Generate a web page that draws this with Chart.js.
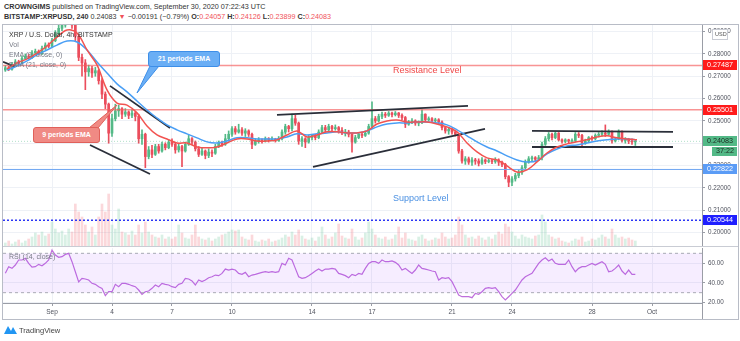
<!DOCTYPE html>
<html>
<head>
<meta charset="utf-8">
<script src="https://cdn.jsdelivr.net/npm/chart.js@4.4.1/dist/chart.umd.min.js"></script>
<style>
  body { margin:0; width:740px; height:341px; background:#fff; position:relative; overflow:hidden;
         font-family:"Liberation Sans", Arial, sans-serif; }
  .abs { position:absolute; white-space:nowrap; }
  .hdr { left:4px; font-size:7.2px; color:#333; line-height:9px; }
  .neg { color:#f0525a; }
  #frame { left:2px; top:24px; width:737px; height:296px; border:1px solid #b8bcc6; box-sizing:border-box; }
  canvas { position:absolute; }
  .legend { left:9px; font-size:7px; color:#787b86; line-height:10px; }
  .note { font-size:9px; }
  .callout { color:#fff; font-weight:bold; font-size:7px; text-align:center; border-radius:3px; box-sizing:border-box; }
</style>
</head>
<body>
<div class="abs hdr" style="top:2px"><b>CROWNGIMS</b> published on TradingView.com, September 30, 2020 07:22:43 UTC</div>
<div class="abs hdr" style="top:12px"><b>BITSTAMP:XRPUSD, 240</b> 0.24083 <span class="neg">▼</span> −0.00191 (−0.79%) <b>O:</b><span class="neg">0.24057</span> <b>H:</b><span class="neg">0.24126</span> <b>L:</b><span class="neg">0.23899</span> <b>C:</b><span class="neg">0.24083</span></div>

<div id="frame" class="abs"></div>
<canvas id="main" width="735" height="222" style="left:3px;top:25px"></canvas>
<canvas id="rsi" width="735" height="72" style="left:3px;top:247px"></canvas>
<div class="abs" style="left:3px;top:246px;width:735px;height:1px;background:#c9ccd4"></div>
<div class="abs" style="left:702px;top:303px;width:1px;height:16px;background:#9a9da6"></div>

<div class="abs legend" style="top:30px;color:#333">XRP / U.S. Dollar, 4h, BITSTAMP</div>
<div class="abs legend" style="top:40px">Vol</div>
<div class="abs legend" style="top:50px">EMA (9, close, 0)</div>
<div class="abs legend" style="top:60px">EMA (21, close, 0)</div>

<div class="abs note" style="left:393px;top:65px;color:#f04848">Resistance Level</div>
<div class="abs note" style="left:393px;top:193px;color:#4a90e2">Support Level</div>

<svg class="abs" style="left:0;top:0" width="740" height="341">
  <polygon points="150,66 159,66 137,93" fill="#6aaef5" stroke="#3d8ee8" stroke-width="1"/>
  <polygon points="89,128 98,128 117,105" fill="#f08a84" stroke="#e0605a" stroke-width="1"/>
  <path d="M4 334 L8 326 L11 331 L13 327 L17 334 Z" fill="#2196f3"/>
</svg>
<div class="abs callout" style="left:148px;top:51px;width:72px;height:16px;line-height:14px;background:#6aaef5;border:1px solid #3d8ee8">21 periods EMA</div>
<div class="abs callout" style="left:33px;top:127px;width:67px;height:16px;line-height:14px;background:#f08a84;border:1px solid #e0605a">9 periods EMA</div>
<div class="abs" style="left:19px;top:326px;font-size:7.5px;color:#444">TradingView</div>

<script>
// ── DATA ──────────────────────────────────────────────
// 4h candles, Aug 29 16:00 → Sep 30 04:00 (x axis = days from Sep 1 00:00)
const firstCandle = -14 / 6;
const candleStep  = 1 / 6;
const firstOpen   = 0.2728;

const closes = [
  .2738,.2732,.2750,.2765,.2758,.2780,.2790,.2785,.2805,.2812,
  .2800,.2825,.2840,.2835,.2860,.2890,.2915,.2930,.2955,.2960,
  .2930,.2880,.2785,.2760,.2720,.2735,.2715,.2725,.2680,.2620,
  .2575,.2445,.2510,.2545,.2555,.2530,.2540,.2525,.2535,.2520,
  .2420,.2440,.2340,.2370,.2350,.2385,.2365,.2395,.2380,.2405,
  .2395,.2370,.2385,.2365,.2395,.2420,.2405,.2375,.2350,.2365,
  .2345,.2360,.2355,.2385,.2400,.2395,.2420,.2440,.2465,.2450,
  .2460,.2445,.2455,.2440,.2395,.2410,.2415,.2410,.2420,.2415,
  .2418,.2412,.2420,.2450,.2475,.2465,.2510,.2490,.2410,.2420,
  .2405,.2425,.2435,.2425,.2450,.2470,.2460,.2475,.2465,.2470,
  .2458,.2445,.2450,.2440,.2405,.2425,.2440,.2435,.2445,.2475,
  .2510,.2500,.2520,.2530,.2525,.2535,.2528,.2535,.2525,.2515,
  .2485,.2495,.2500,.2490,.2492,.2530,.2505,.2510,.2500,.2505,
  .2495,.2470,.2455,.2462,.2450,.2440,.2365,.2320,.2330,.2315,
  .2325,.2320,.2310,.2325,.2318,.2322,.2318,.2325,.2315,.2305,
  .2250,.2225,.2240,.2255,.2270,.2290,.2315,.2330,.2335,.2328,
  .2335,.2395,.2420,.2440,.2425,.2445,.2415,.2408,.2415,.2410,
  .2412,.2440,.2435,.2400,.2410,.2425,.2420,.2435,.2440,.2445,
  .2440,.2450,.2410,.2418,.2452,.2412,.2418,.2410,.24057,.24083
];
const highs = [
  .2748,.2745,.2762,.2775,.2772,.2790,.2800,.2798,.2815,.2822,
  .2818,.2835,.2850,.2850,.2870,.2905,.2935,.2960,.2990,.3010,
  .2985,.2950,.2880,.2800,.2775,.2750,.2745,.2740,.2730,.2690,
  .2630,.2580,.2530,.2575,.2570,.2560,.2555,.2545,.2550,.2540,
  .2530,.2460,.2445,.2385,.2390,.2395,.2395,.2405,.2402,.2415,
  .2420,.2400,.2395,.2390,.2405,.2435,.2425,.2410,.2385,.2380,
  .2370,.2375,.2370,.2395,.2410,.2410,.2440,.2455,.2475,.2475,
  .2485,.2470,.2465,.2460,.2445,.2420,.2425,.2420,.2428,.2425,
  .2428,.2422,.2430,.2460,.2485,.2480,.2530,.2525,.2495,.2430,
  .2425,.2435,.2440,.2440,.2460,.2480,.2480,.2485,.2480,.2482,
  .2475,.2470,.2462,.2458,.2445,.2435,.2448,.2450,.2455,.2485,
  .2585,.2520,.2530,.2540,.2538,.2542,.2540,.2542,.2538,.2532,
  .2520,.2502,.2510,.2505,.2500,.2550,.2532,.2518,.2515,.2512,
  .2510,.2500,.2475,.2470,.2468,.2455,.2445,.2372,.2340,.2338,
  .2335,.2332,.2330,.2335,.2330,.2332,.2328,.2335,.2330,.2320,
  .2310,.2255,.2250,.2265,.2280,.2300,.2325,.2340,.2342,.2340,
  .2345,.2405,.2430,.2448,.2445,.2450,.2448,.2420,.2420,.2418,
  .2420,.2448,.2448,.2440,.2418,.2430,.2432,.2442,.2448,.2455,
  .2482,.2460,.2455,.2425,.2460,.2455,.2425,.2422,.2420,.24126
];
const lows = [
  .2722,.2725,.2728,.2745,.2750,.2755,.2775,.2778,.2780,.2800,
  .2795,.2798,.2820,.2828,.2830,.2855,.2880,.2905,.2920,.2935,
  .2915,.2860,.2770,.2700,.2640,.2700,.2695,.2700,.2665,.2600,
  .2555,.2400,.2430,.2500,.2520,.2510,.2520,.2510,.2515,.2500,
  .2400,.2395,.2290,.2330,.2335,.2345,.2355,.2360,.2370,.2375,
  .2385,.2355,.2360,.2295,.2360,.2390,.2395,.2365,.2340,.2345,
  .2330,.2335,.2340,.2350,.2380,.2385,.2390,.2410,.2430,.2440,
  .2445,.2435,.2430,.2430,.2375,.2390,.2400,.2400,.2405,.2405,
  .2410,.2405,.2408,.2415,.2440,.2450,.2455,.2480,.2395,.2385,
  .2380,.2400,.2415,.2415,.2420,.2445,.2450,.2455,.2455,.2458,
  .2445,.2438,.2432,.2428,.2360,.2400,.2420,.2425,.2430,.2440,
  .2470,.2490,.2495,.2510,.2515,.2520,.2518,.2522,.2515,.2505,
  .2470,.2480,.2488,.2480,.2478,.2488,.2495,.2498,.2492,.2495,
  .2485,.2460,.2445,.2440,.2440,.2432,.2355,.2310,.2305,.2305,
  .2300,.2305,.2298,.2305,.2308,.2312,.2308,.2310,.2300,.2295,
  .2240,.2205,.2210,.2230,.2245,.2260,.2285,.2310,.2320,.2320,
  .2322,.2325,.2390,.2410,.2415,.2420,.2410,.2400,.2402,.2400,
  .2402,.2405,.2425,.2385,.2395,.2405,.2412,.2415,.2428,.2432,
  .2430,.2435,.2400,.2405,.2415,.2405,.2400,.2398,.2395,.23899
];
// volume, millions XRP
const volumes = [
  4,6,3,5,7,4,6,8,10,14,     12,15,11,13,25,18,14,16,12,18,
  15,43,35,30,22,15,20,12,30,43, 35,53,22,18,38,15,14,12,16,12,
  22,14,25,15,12,10,9,12,8,10, 8,10,22,14,9,8,12,22,10,8,
  7,9,6,8,10,12,13,15,17,16,  17,10,8,7,12,6,5,7,6,8,
  5,6,7,9,12,10,15,12,17,11,  8,7,9,6,10,20,12,8,10,14,
  23,11,9,8,18,10,7,9,14,25,  18,12,9,8,10,7,8,12,20,9,
  14,8,7,6,10,12,8,6,7,9,     8,14,10,8,9,12,30,22,12,9,
  10,8,11,9,7,10,8,12,15,13,  23,20,15,11,8,12,10,9,8,11,
  12,32,25,12,10,8,9,6,5,4,   6,8,7,10,5,6,8,7,9,12,
  10,8,18,12,9,10,8,9,7,6
];
const rsi = [
  49.7,56.4,54.7,58.1,63.2,63.2,64.9,59.8,56.0,56.4,
  58.8,57.4,59.8,63.2,73.3,68.2,66.0,66.6,68.9,70.0,
  61.5,51.3,41.0,44.6,43.9,42.9,39.5,38.5,36.1,34.4,
  27.0,31.0,31.0,38.5,36.1,39.5,39.5,38.5,37.1,36.1,
  32.7,28.3,31.0,31.7,34.4,37.8,36.1,39.5,38.5,37.8,
  36.1,35.1,38.5,39.5,44.6,43.9,41.9,37.8,42.9,41.2,
  42.9,45.2,46.2,47.9,47.3,49.6,54.0,53.0,54.0,53.0,
  49.6,48.6,50.6,46.2,47.9,48.6,49.6,50.6,51.3,50.6,
  51.3,50.6,51.3,59.8,58.1,64.9,63.2,54.7,46.2,44.6,
  45.2,47.3,49.6,52.0,54.0,52.0,54.0,54.0,54.7,54.0,
  49.6,48.6,47.3,45.2,48.6,47.3,49.6,48.6,54.7,59.8,
  61.5,61.5,59.8,63.2,61.5,61.5,62.2,60.8,58.1,53.0,
  54.7,52.0,49.6,53.0,58.1,54.7,54.0,53.0,52.0,51.3,
  42.9,45.2,44.6,45.2,41.2,34.4,27.6,25.9,25.9,25.9,
  24.9,29.3,28.3,31.0,34.4,35.1,34.4,35.1,31.0,25.9,
  22.6,25.9,29.3,32.7,37.8,42.9,46.2,47.9,49.6,54.7,
  59.8,63.2,65.5,62.2,64.2,59.8,58.8,58.8,58.8,63.2,
  56.4,51.3,54.7,56.4,56.4,58.1,59.8,58.1,59.8,61.5,
  58.8,51.3,52.0,54.7,58.1,52.0,48.6,53.0,48.6,48.6
];

// EMA lines, read every 12h from Aug 29 18:00
const emaStart = -2.25, emaStep = 0.5;
const ema9 = [
  .2733,.2760,.2778,.2804,.2836,.2876,.2908,.2894,.2818,.2751,
  .2639,.2580,.2571,.2536,.2477,.2437,.2419,.2401,.2401,.2383,
  .2379,.2383,.2401,.2419,.2419,.2410,.2410,.2415,.2437,.2455,
  .2428,.2437,.2451,.2451,.2446,.2446,.2455,.2486,.2500,.2504,
  .2495,.2495,.2495,.2486,.2473,.2451,.2401,.2361,.2334,.2325,
  .2298,.2271,.2280,.2316,.2356,.2383,.2397,.2406,.2415,.2428,
  .2433,.2424,.2419,.2415
];
const ema21 = [
  .2728,.2746,.2769,.2796,.2818,.2840,.2858,.2854,.2818,.2764,
  .2715,.2666,.2630,.2589,.2549,.2513,.2482,.2460,.2442,.2424,
  .2406,.2401,.2410,.2424,.2424,.2419,.2419,.2419,.2428,.2442,
  .2437,.2442,.2446,.2451,.2446,.2446,.2455,.2473,.2486,.2491,
  .2491,.2495,.2495,.2491,.2482,.2460,.2433,.2406,.2383,.2365,
  .2343,.2325,.2316,.2321,.2352,.2374,.2388,.2392,.2401,.2410,
  .2415,.2419,.2419,.2415
];

// horizontal levels and trend lines [day1, price1, day2, price2]
const levels = [0.27487, 0.25501, 0.24083, 0.22822, 0.20544];
const trendLines = [
  [-2.45, .2765, -1.85, .2743],
  [2.9, .2657, 5.9, .2468],
  [1.9, .2392, 4.9, .2262],
  [11.25, .2527, 20.8, .2567],
  [13.05, .2294, 21.65, .2464],
  [24.0, .2455, 31.05, .2451],
  [24.0, .2383, 31.05, .2383]
];

const priceTicks = [0.20, 0.21, 0.22, 0.23, 0.24, 0.25, 0.26, 0.27, 0.28, 0.29];
const rsiTicks   = [20, 40, 60];
const tickDays   = [0, 3, 6, 9, 13, 16, 20, 23, 27, 30];
const tickLabels = ['Sep', '4', '7', '10', '14', '17', '21', '24', '28', 'Oct'];
const countdown  = '37:22';

// ── STYLE ─────────────────────────────────────────────
const X_MIN = -2.45, X_MAX = 32.5;
const UP = '#53b987', DOWN = '#eb4d5c';
const GRID = '#eef1f6';
const FONT = '"Liberation Sans", Arial, sans-serif';
const levelStyles = [
  { color:'rgba(244,90,90,0.65)', width:1.6, dash:[] },
  { color:'rgba(244,90,90,0.65)', width:1.6, dash:[] },
  { color:'rgba(83,185,135,0.45)', width:1, dash:[1,2] },
  { color:'#6fa6f2', width:1, dash:[] },
  { color:'#2b35f5', width:1.4, dash:[2,2] }
];
const tagStyles = [
  { bg:'#ff1a1a', fg:'#fff' }, { bg:'#ff1a1a', fg:'#fff' },
  { bg:'#53b987', fg:'#1d2b22' }, { bg:'#5b9cf6', fg:'#fff' }, { bg:'#1f1fff', fg:'#fff' }
];

// ── BUILD ─────────────────────────────────────────────
const days  = closes.map((_, i) => firstCandle + i * candleStep);
const opens = closes.map((_, i) => i === 0 ? firstOpen : closes[i - 1]);
const isUp  = closes.map((c, i) => c >= opens[i]);
const emaDays = ema9.map((_, k) => emaStart + k * emaStep);

const hline = v => [{ x: X_MIN, y: v }, { x: X_MAX, y: v }];

const datasets = [
  { type:'line', data: emaDays.map((d, k) => ({ x: d, y: ema9[k] })), borderColor:'#f25350', borderWidth:1.5, pointRadius:0, tension:0.35, order:0 },
  { type:'line', data: emaDays.map((d, k) => ({ x: d, y: ema21[k] })), borderColor:'#4a9ff5', borderWidth:1.5, pointRadius:0, tension:0.35, order:0 }
];
trendLines.forEach(l => datasets.push({
  type:'line', data:[{ x:l[0], y:l[1] }, { x:l[2], y:l[3] }],
  borderColor:'#2a2e39', borderWidth:1.8, pointRadius:0, order:0
}));
levels.forEach((v, k) => datasets.push({
  type:'line', data: hline(v), borderColor: levelStyles[k].color, borderWidth: levelStyles[k].width,
  borderDash: levelStyles[k].dash, pointRadius:0, order:1
}));
datasets.push({
  type:'bar', data: days.map((d, i) => ({ x: d, y: [opens[i], closes[i]] })),
  backgroundColor: isUp.map(u => u ? UP : DOWN), barThickness:2, grouped:false, order:2
});
datasets.push({
  type:'bar', data: days.map((d, i) => ({ x: d, y: [Math.min(lows[i], opens[i], closes[i]), Math.max(highs[i], opens[i], closes[i])] })),
  backgroundColor: isUp.map(u => u ? UP : DOWN), barThickness:1, grouped:false, order:3
});
datasets.push({
  type:'bar', yAxisID:'yVol', data: days.map((d, i) => ({ x: d, y: volumes[i] })),
  backgroundColor: isUp.map(u => u ? 'rgba(83,185,135,0.22)' : 'rgba(235,77,92,0.22)'),
  barThickness:2, grouped:false, order:5
});

const tagPlugin = {
  id: 'tags',
  afterDraw(chart) {
    const { ctx, chartArea, scales: { y } } = chart;
    const x0 = chartArea.right + 1;
    ctx.save();
    ctx.textBaseline = 'middle';
    ctx.font = '7.2px ' + FONT;
    levels.forEach((v, k) => {
      const py = Math.round(y.getPixelForValue(v));
      ctx.fillStyle = tagStyles[k].bg;
      ctx.fillRect(x0, py - 5, 34, 10);
      ctx.fillStyle = tagStyles[k].fg;
      ctx.fillText(v.toFixed(5), x0 + 4, py + 0.5);
      if (k === 2) {
        ctx.fillStyle = tagStyles[k].bg;
        ctx.fillRect(x0 + 9, py + 6, 25, 9);
        ctx.fillStyle = tagStyles[k].fg;
        ctx.fillText(countdown, x0 + 13, py + 10.5);
      }
    });
    // currency badge
    ctx.fillStyle = '#fff';
    ctx.strokeStyle = '#c9ccd4';
    ctx.fillRect(x0 + 9, 4, 15, 10);
    ctx.strokeRect(x0 + 9.5, 4.5, 15, 10);
    ctx.fillStyle = '#555';
    ctx.font = '5.5px ' + FONT;
    ctx.fillText('USD', x0 + 12, 9.5);
    ctx.restore();
  }
};

// keep the plot area flush with the canvas edges (labels may overhang)
const noPad = s => { s.width = 36; s.paddingTop = 0; s.paddingBottom = 0; };

const xScale = (showLabels) => ({
  type:'linear', min:X_MIN, max:X_MAX, offset:false,
  afterBuildTicks: s => { s.ticks = tickDays.map(v => ({ value: v })); },
  ticks: { display: showLabels, color:'#50535e', font:{ size:6.5, family:FONT }, padding:2, maxRotation:0,
           callback: v => tickLabels[tickDays.indexOf(v)] },
  grid: { color:GRID, offset:false, drawTicks: showLabels, tickLength:3, tickColor:'#9a9da6' },
  border: { display: showLabels, color:'#9a9da6' },
  afterFit: s => { s.height = showLabels ? 16 : 0; s.paddingLeft = 0; s.paddingRight = 0; }
});

new Chart(document.getElementById('main'), {
  type:'bar',
  data:{ datasets },
  options:{
    responsive:false, animation:false, events:[],
    layout:{ padding:0 },
    plugins:{ legend:{ display:false }, tooltip:{ enabled:false } },
    scales:{
      x: xScale(false),
      y: {
        position:'right', min:0.19345, max:0.2930,
        afterBuildTicks: s => { s.ticks = priceTicks.map(v => ({ value: v })); },
        ticks:{ color:'#50535e', font:{ size:6.3, family:FONT }, padding:3, callback: v => v.toFixed(5) },
        grid:{ color:GRID, tickLength:3, tickColor:'#9a9da6' },
        border:{ color:'#9a9da6' },
        afterFit: noPad
      },
      yVol:{ display:false, min:0, max:222 }
    }
  },
  plugins:[tagPlugin]
});

new Chart(document.getElementById('rsi'), {
  type:'line',
  data:{ datasets:[
    { data: hline(70), borderColor:'#a9abb5', borderWidth:1, borderDash:[3,3], pointRadius:0, fill:false },
    { data: hline(30), borderColor:'#a9abb5', borderWidth:1, borderDash:[3,3], pointRadius:0,
      fill:'-1', backgroundColor:'rgba(160,60,255,0.09)' },
    { data: days.map((d, i) => ({ x: d, y: rsi[i] })), borderColor:'#bf6fdc', borderWidth:1.2, pointRadius:0, fill:false }
  ]},
  options:{
    responsive:false, animation:false, events:[],
    layout:{ padding:{ top:1 } },
    plugins:{ legend:{ display:false }, tooltip:{ enabled:false } },
    scales:{
      x: xScale(true),
      y: {
        position:'right', min:19.5, max:75.4,
        afterBuildTicks: s => { s.ticks = rsiTicks.map(v => ({ value: v })); },
        ticks:{ color:'#50535e', font:{ size:6.3, family:FONT }, padding:3, callback: v => v.toFixed(2) },
        grid:{ color:GRID, tickLength:3, tickColor:'#9a9da6' },
        border:{ color:'#9a9da6' },
        afterFit: noPad
      }
    }
  },
  plugins:[{
    id:'rsiLabel',
    afterDraw(chart) {
      const { ctx, chartArea } = chart;
      ctx.save();
      ctx.font = '7px ' + FONT;
      ctx.fillStyle = '#787b86';
      ctx.textBaseline = 'middle';
      ctx.fillText('RSI (14, close)', chartArea.left + 6, chartArea.top + 9);
      ctx.restore();
    }
  }]
});
</script>
</body>
</html>
